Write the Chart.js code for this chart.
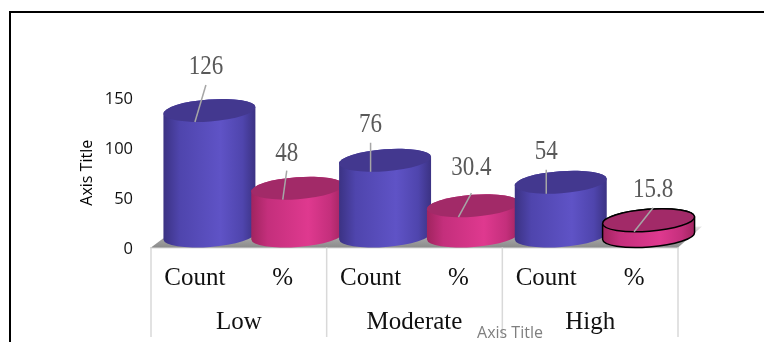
<!DOCTYPE html>
<html>
<head>
<meta charset="utf-8">
<title>Count and % by level</title>
<script src="https://cdn.jsdelivr.net/npm/chart.js@4/dist/chart.umd.min.js"></script>
<style>
  html, body { margin: 0; background: #fff; overflow: hidden; }
  #frame { position: absolute; left: 9px; top: 11px; right: 0; bottom: 0; border-top: 2px solid #000; border-left: 2px solid #000; }
  #myChart { position: absolute; left: 0; top: 0; }
</style>
</head>
<body>
<div id="frame"></div>
<canvas id="myChart" width="764" height="342"></canvas>
<script>
const categories = ["Count", "%", "Count", "%", "Count", "%"];
const levels = ["Low", "Moderate", "High"];
const values = [126, 48, 76, 30.4, 54, 15.8];
const yTicks = [0, 50, 100, 150];

const BLUE = "#5f53c6";
const PINK = "#df398f";
const SERIF = "'Liberation Serif', serif";
const SANS = "'Open Sans', sans-serif";

// shades of each cylinder: side edge, shoulder, top cap
const shades = {
  [BLUE]: { edge: "#3b3283", shoulder: "#4f45ad", cap: "#43388f" },
  [PINK]: { edge: "#a0245f", shoulder: "#c42f7c", cap: "#a22a68" },
};

// cylinder look: sideways shift from the category centre, cap radius and tilt
const DEPTH = 14.5;
const CAP_RY = 11;
const TILT = -4.3 * Math.PI / 180;
const CAP_DROP = 11.5;

// leader line from the front of the cap up to the label: [dx, dy, gap to label]
const leaders = [[11, -37, 18], [4, -29, 17], [0, -29, 18], [13, -24, 25], [0, -24, 18], [19, -24, 18]];
const outlined = [false, false, false, false, false, true];

function drawCylinder(ctx, bar, i, base) {
  const color = bar.options.backgroundColor;
  const rx = bar.width / 2;
  const cx = bar.x + DEPTH;
  const topY = bar.y - CAP_DROP;
  const botY = base - CAP_DROP;

  const grad = ctx.createLinearGradient(cx - rx, 0, cx + rx, 0);
  grad.addColorStop(0, shades[color].edge);
  grad.addColorStop(0.18, shades[color].shoulder);
  grad.addColorStop(0.62, color);
  grad.addColorStop(0.86, shades[color].shoulder);
  grad.addColorStop(1, shades[color].edge);

  ctx.beginPath();
  ctx.ellipse(cx, botY, rx, CAP_RY, TILT, 0, Math.PI);
  ctx.ellipse(cx, topY, rx, CAP_RY, TILT, Math.PI, Math.PI * 2);
  ctx.closePath();
  ctx.fillStyle = grad;
  ctx.fill();
  if (outlined[i]) {
    ctx.strokeStyle = "#000";
    ctx.lineWidth = 1.5;
    ctx.stroke();
  }

  ctx.beginPath();
  ctx.ellipse(cx, topY, rx, CAP_RY, TILT, 0, Math.PI * 2);
  ctx.fillStyle = shades[color].cap;
  ctx.fill();
  if (outlined[i]) ctx.stroke();
}

const cylinders = {
  id: "cylinders",
  // floor under the bars and the level separators
  beforeDatasetsDraw(chart) {
    const { ctx, scales } = chart;
    const x = scales.x;
    const base = scales.y.getPixelForValue(0);
    ctx.save();
    const floor = ctx.createLinearGradient(0, base - 22, 0, base);
    floor.addColorStop(0, "#eeeeee");
    floor.addColorStop(0.5, "#a8a8a8");
    floor.addColorStop(1, "#8c8c8c");
    ctx.beginPath();
    ctx.moveTo(x.left, base);
    ctx.lineTo(x.left + 12, base - 9);
    ctx.lineTo(x.right + 24, base - 21);
    ctx.lineTo(x.right, base);
    ctx.closePath();
    ctx.fillStyle = floor;
    ctx.fill();

    ctx.strokeStyle = "#d9d9d9";
    ctx.lineWidth = 1.5;
    levels.concat("").forEach((_, i) => {
      const px = x.left + i * x.width / levels.length;
      ctx.beginPath();
      ctx.moveTo(px, base);
      ctx.lineTo(px, 337);
      ctx.stroke();
    });
    ctx.restore();
  },
  // replaces the flat rectangles with cylinders
  beforeDatasetDraw(chart, args) {
    const { ctx, scales } = chart;
    const base = scales.y.getPixelForValue(0);
    ctx.save();
    args.meta.data.forEach((bar, i) => drawCylinder(ctx, bar, i, base));
    ctx.restore();
    return false;
  },
  afterDatasetsDraw(chart) {
    const { ctx } = chart;
    const meta = chart.getDatasetMeta(0);
    ctx.save();
    meta.data.forEach((bar, i) => {
      const [dx, dy, gap] = leaders[i];
      ctx.beginPath();
      ctx.moveTo(bar.x, bar.y);
      ctx.lineTo(bar.x + dx, bar.y + dy);
      ctx.strokeStyle = "#a6a6a6";
      ctx.lineWidth = 1.5;
      ctx.stroke();

      // value labels are a little taller than the plain serif
      ctx.save();
      ctx.translate(bar.x + dx, bar.y + dy - gap);
      ctx.scale(1, 1.15);
      ctx.font = "23px " + SERIF;
      ctx.fillStyle = "#595959";
      ctx.textAlign = "center";
      ctx.textBaseline = "middle";
      ctx.fillText(String(values[i]), 0, 0);
      ctx.restore();
    });

    // category axis title sits off centre, over the last separator
    ctx.font = "16px " + SANS;
    ctx.fillStyle = "#7f7f7f";
    ctx.textAlign = "center";
    ctx.textBaseline = "middle";
    ctx.fillText("Axis Title", 510, 333);
    ctx.restore();
  },
};

const ctx = document.getElementById("myChart");

new Chart(ctx, {
  type: "bar",
  plugins: [cylinders],
  data: {
    labels: categories,
    datasets: [
      {
        label: "Level",
        data: values,
        backgroundColor: values.map((_, i) => (i % 2 === 0 ? BLUE : PINK)),
        barPercentage: 1.05,
        categoryPercentage: 1,
      },
    ],
  },
  options: {
    responsive: false,
    animation: false,
    layout: { padding: { left: 78, right: 86, top: 98, bottom: 0 } },
    plugins: {
      legend: { display: false },
      tooltip: { enabled: false },
    },
    scales: {
      y: {
        min: 0,
        max: 150,
        afterBuildTicks(scale) {
          scale.ticks = yTicks.map((value) => ({ value }));
        },
        afterFit(scale) {
          scale.width = 73;
        },
        grid: { display: false },
        border: { display: false },
        ticks: { padding: 10, labelOffset: 1.5, color: "#111", font: { family: SANS, size: 16.5 } },
        title: {
          display: true,
          text: "Axis Title",
          color: "#000",
          padding: { top: 0, bottom: 0 },
          font: { family: SANS, size: 16 },
        },
      },
      x: {
        weight: 1,
        afterFit(scale) {
          scale.height = 46;
        },
        grid: { display: false },
        border: { color: "#d9d9d9", width: 1.5 },
        ticks: {
          padding: 8,
          color: "#111",
          autoSkip: false,
          maxRotation: 0,
          font: { family: SERIF, size: 25 },
        },
      },
      x2: {
        axis: "x",
        type: "category",
        position: "bottom",
        weight: 2,
        offset: true,
        labels: levels,
        afterFit(scale) {
          scale.height = 48.5;
        },
        grid: { display: false },
        border: { display: false },
        ticks: {
          padding: 6,
          color: "#111",
          autoSkip: false,
          maxRotation: 0,
          font: { family: SERIF, size: 25 },
        },
      },
    },
  },
});
</script>
</body>
</html>
